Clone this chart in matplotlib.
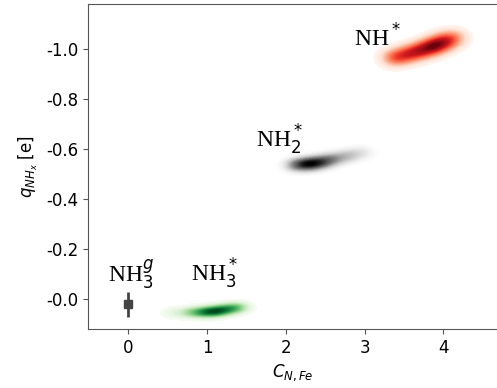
import numpy as np
import matplotlib
matplotlib.use('Agg')
import matplotlib.pyplot as plt

plt.rcParams['axes.unicode_minus'] = False

# Ridge points of each charge distribution: coordination number, charge, relative density
nh3_x = [0.6, 0.8, 0.95, 1.08, 1.2, 1.32, 1.4]
nh3_q = [0.056, 0.054, 0.053, 0.050, 0.044, 0.037, 0.033]
nh3_w = [0.1, 0.35, 0.7, 1.0, 0.8, 0.5, 0.25]

nh2_x = [2.15, 2.3, 2.45, 2.6, 2.78, 2.95]
nh2_q = [-0.536, -0.54, -0.548, -0.56, -0.572, -0.585]
nh2_w = [0.6, 1.0, 0.75, 0.45, 0.3, 0.15]

nh_x = [3.4, 3.55, 3.7, 3.85, 3.98, 4.1]
nh_q = [-0.965, -0.978, -0.992, -1.008, -1.025, -1.042]
nh_w = [0.55, 0.65, 0.8, 1.0, 0.85, 0.45]

# gas phase reference
gas_x = 0.0
gas_q = 0.02
gas_err = 0.05

yticks = [-1.0, -0.8, -0.6, -0.4, -0.2, 0.0]
yticklabels = ['-1.0', '-0.8', '-0.6', '-0.4', '-0.2', '-0.0']

fig = plt.figure(figsize=(4.97, 3.88), dpi=100)
ax = fig.add_axes([0.177, 0.152, 0.823, 0.838])

gx = np.linspace(-0.5, 4.7, 600)
gy = np.linspace(-1.18, 0.12, 600)
X, Y = np.meshgrid(gx, gy)


def density(xs, qs, ws, sx, sy):
    d = np.zeros_like(X)
    for x0, q0, w in zip(xs, qs, ws):
        d += w * np.exp(-0.5 * (((X - x0) / sx) ** 2 + ((Y - q0) / sy) ** 2))
    return (d / d.max()) ** 0.7


for xs, qs, ws, cmap, sx, sy in [(nh3_x, nh3_q, nh3_w, 'Greens', 0.09, 0.012),
                                 (nh2_x, nh2_q, nh2_w, 'Greys', 0.1, 0.016),
                                 (nh_x, nh_q, nh_w, 'Reds', 0.1, 0.019)]:
    d = density(xs, qs, ws, sx, sy)
    ax.contourf(X, Y, d, levels=np.linspace(0.03, 1.0, 50), cmap=cmap, extend='max')

ax.errorbar(gas_x, gas_q, yerr=gas_err, fmt='s', color='#444444', ms=6,
            elinewidth=2, capsize=0)

lab = dict(fontsize=17, ha='center', va='center', family='Liberation Serif')
ax.text(0.04, -0.10, r'NH$_3^g$', **lab)
ax.text(1.1, -0.10, r'NH$_3^*$', **lab)
ax.text(1.92, -0.635, r'NH$_2^*$', **lab)
ax.text(3.16, -1.045, r'NH$^*$', **lab)

ax.set_xlim(-0.51, 4.68)
ax.set_ylim(0.12, -1.18)
ax.set_xticks([0, 1, 2, 3, 4])
ax.set_yticks(yticks)
ax.set_yticklabels(yticklabels)
ax.tick_params(labelsize=12, color='#555555')
for s in ['left', 'bottom', 'top']:
    ax.spines[s].set_color('#555555')
ax.spines['right'].set_visible(False)

ax.set_xlabel(r'$C_{N,Fe}$', fontsize=12)
ax.set_ylabel(r'$q_{NH_x}$ [e]', fontsize=12)

fig.savefig('out.png', dpi=100)
